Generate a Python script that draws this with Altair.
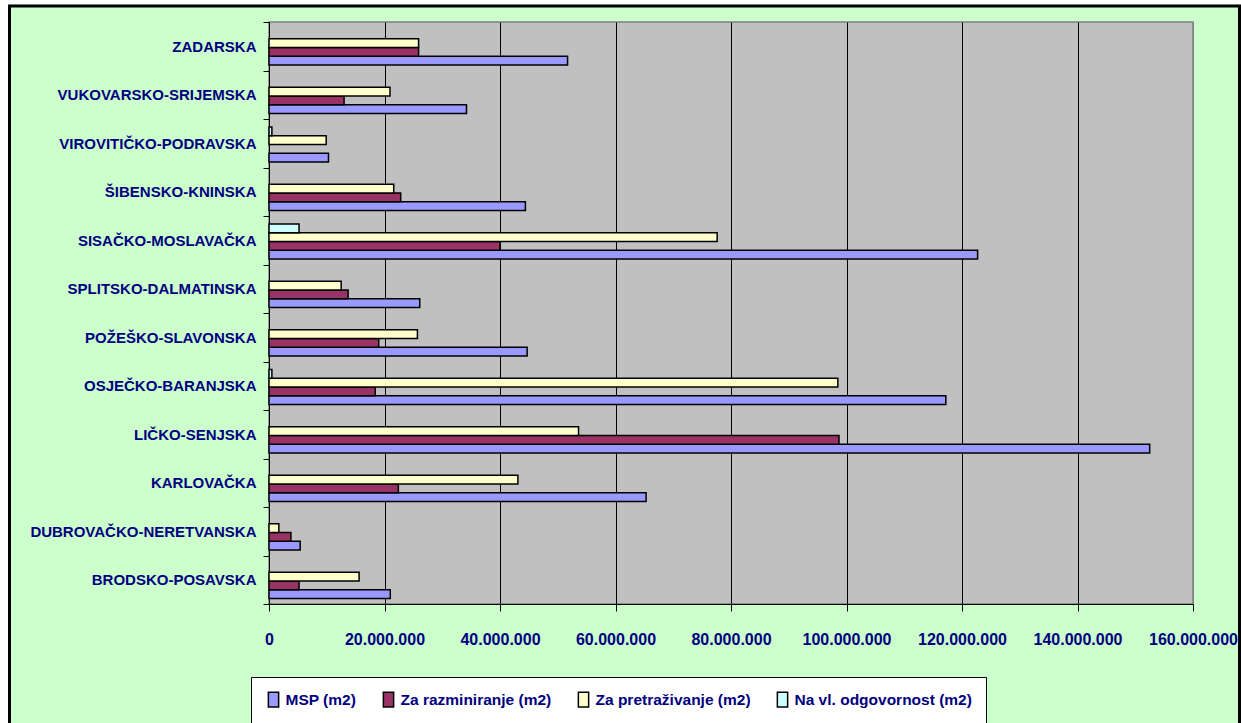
import altair as alt
import pandas as pd

categories = [
    "ZADARSKA", "VUKOVARSKO-SRIJEMSKA", "VIROVITIČKO-PODRAVSKA", "ŠIBENSKO-KNINSKA",
    "SISAČKO-MOSLAVAČKA", "SPLITSKO-DALMATINSKA", "POŽEŠKO-SLAVONSKA", "OSJEČKO-BARANJSKA",
    "LIČKO-SENJSKA", "KARLOVAČKA", "DUBROVAČKO-NERETVANSKA", "BRODSKO-POSAVSKA",
]
series = ["MSP (m2)", "Za razminiranje (m2)", "Za pretraživanje (m2)", "Na vl. odgovornost (m2)"]
colors = ["#9999FF", "#993366", "#FFFFCC", "#CCFFFF"]

msp = [51700000, 34200000, 10300000, 44400000, 122700000, 26100000,
       44700000, 117200000, 152500000, 65300000, 5400000, 21000000]
razminiranje = [25900000, 13000000, 0, 22800000, 40000000, 13700000,
                19000000, 18400000, 98700000, 22400000, 3800000, 5200000]
pretrazivanje = [25900000, 20950000, 9900000, 21600000, 77600000, 12500000,
                 25700000, 98500000, 53600000, 43100000, 1700000, 15600000]
na_vl = [0, 0, 500000, 0, 5200000, 0, 0, 500000, 0, 0, 0, 0]

x_ticks = [0, 20000000, 40000000, 60000000, 80000000, 100000000, 120000000, 140000000, 160000000]

rows = []
for s, vals in zip(series, [msp, razminiranje, pretrazivanje, na_vl]):
    for c, v in zip(categories, vals):
        rows.append({"zupanija": c, "serija": s, "vrijednost": v})
df = pd.DataFrame(rows)

FONT = "Liberation Sans, Arial, sans-serif"
NAVY = "#000080"
W, H = 924, 582

bars = alt.Chart(df).transform_filter("datum.vrijednost > 0").mark_bar(
    stroke="black", strokeWidth=1.5
).encode(
    x=alt.X("vrijednost:Q",
            scale=alt.Scale(domain=[0, 160000000], nice=False),
            axis=alt.Axis(
                title=None, values=x_ticks,
                labelExpr="replace(format(datum.value, ','), regexp(',', 'g'), '.')",
                labelFont=FONT, labelFontSize=16, labelFontWeight="bold", labelColor=NAVY,
                labelFlush=False, labelOverlap=False, labelPadding=20, labelBound=False,
                tickSize=7, tickColor="black", domainColor="black",
                grid=True, gridWidth=1,
                gridColor={"condition": {"test": "datum.value >= 160000000", "value": "#808080"},
                           "value": "black"},
            )),
    y=alt.Y("zupanija:N", sort=categories,
            scale=alt.Scale(paddingInner=0, paddingOuter=0),
            axis=alt.Axis(
                title=None, tickBand="extent", labelFont=FONT, labelFontSize=15,
                labelFontWeight="bold", labelColor=NAVY, labelPadding=7, labelLimit=400,
                tickSize=6, tickColor="black", domainColor="black", grid=False,
            )),
    yOffset=alt.YOffset("serija:N", sort=list(reversed(series)),
                        scale=alt.Scale(paddingInner=0, paddingOuter=0.77, align=0.6)),
    color=alt.Color("serija:N",
                    scale=alt.Scale(domain=series, range=colors),
                    legend=alt.Legend(
                        title=None, orient="none", legendX=-18, legendY=655,
                        direction="horizontal", columns=4,
                        strokeColor="black", fillColor="white", padding=14,
                        symbolType="M-0.7,-1L0.7,-1L0.7,1L-0.7,1Z", symbolSize=216,
                        symbolStrokeColor="black", symbolStrokeWidth=1.5, symbolOpacity=1,
                        labelFont=FONT, labelFontSize=15.5, labelFontWeight="bold",
                        labelColor=NAVY, labelOffset=3.5, columnPadding=23, labelLimit=400,
                    )),
)

one = pd.DataFrame({"k": [0]})

frame = alt.Chart(one).mark_rect(fill=None, stroke="black", strokeWidth=3).encode(
    x=alt.value(-259.5), x2=alt.value(970.5), y=alt.value(-16), y2=alt.value(720),
)
white_left = alt.Chart(one).mark_rect(fill="white", stroke=None).encode(
    x=alt.value(-269), x2=alt.value(-261), y=alt.value(-22), y2=alt.value(701),
)
white_top = alt.Chart(one).mark_rect(fill="white", stroke=None).encode(
    x=alt.value(-269), x2=alt.value(972), y=alt.value(-22), y2=alt.value(-17.5),
)

chart = alt.layer(bars, white_left, white_top, frame).properties(
    width=W, height=H,
    autosize=alt.AutoSizeParams(type="none"),
    padding={"left": 269, "top": 22, "right": 48, "bottom": 119},
    background="#CCFFCC",
).configure_view(
    fill="#C0C0C0", stroke="#808080", strokeWidth=1.5,
)

chart.save("out.html", embed_options={"renderer": "svg", "actions": False})
